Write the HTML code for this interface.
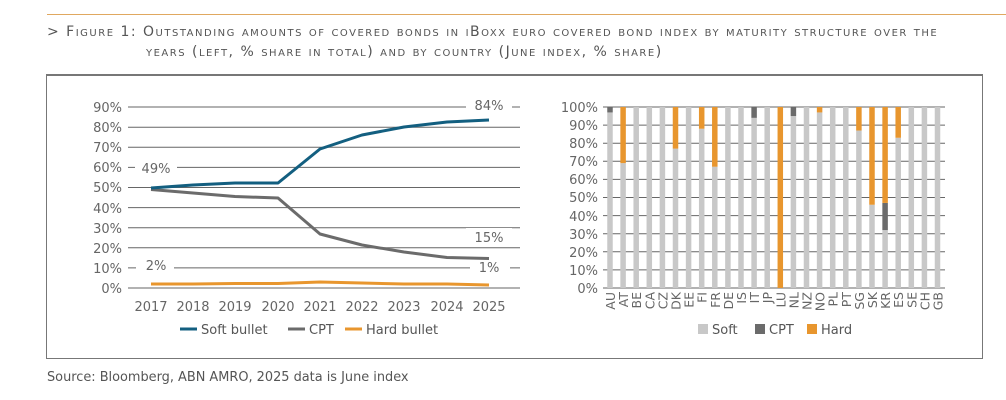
<!DOCTYPE html>
<html><head><meta charset="utf-8"><style>
body{margin:0;width:1006px;height:400px;background:#fff;font-family:"DejaVu Sans","Liberation Sans",sans-serif;overflow:hidden;position:relative}
.t{position:absolute;left:47px;color:#555;font-size:14px;font-variant:small-caps;letter-spacing:1.5px;white-space:nowrap}
</style></head><body>
<div style="position:absolute;left:47px;top:14px;width:959px;height:1px;background:#e0a860"></div>
<div class="t" style="top:24px">&gt; Figure 1: Outstanding amounts of covered bonds in iBoxx euro covered bond index by maturity structure over the</div>
<div class="t" style="top:44px;left:146px">years (left, % share in total) and by country (June index, % share)</div>
<div style="position:absolute;left:46px;top:74px;width:937px;height:285px;border:1px solid #777;border-top:2px solid #777;box-sizing:border-box"></div>
<div style="position:absolute;left:47px;top:370px;font-size:12.9px;color:#555">Source: Bloomberg, ABN AMRO, 2025 data is June index</div>
<svg width="1006" height="400" style="position:absolute;left:0;top:0" font-family="DejaVu Sans, Liberation Sans, sans-serif">
<g stroke="#666" stroke-width="1">
<line x1="128" x2="520" y1="288" y2="288"/><line x1="128" x2="520" y1="267.9" y2="267.9"/><line x1="128" x2="520" y1="247.8" y2="247.8"/><line x1="128" x2="520" y1="227.7" y2="227.7"/><line x1="128" x2="520" y1="207.6" y2="207.6"/><line x1="128" x2="520" y1="187.5" y2="187.5"/><line x1="128" x2="520" y1="167.4" y2="167.4"/><line x1="128" x2="520" y1="147.3" y2="147.3"/><line x1="128" x2="520" y1="127.2" y2="127.2"/><line x1="128" x2="520" y1="107" y2="107"/>
</g>
<g font-size="13" fill="#666" text-anchor="end">
<text x="122" y="293">0%</text><text x="122" y="273">10%</text><text x="122" y="253">20%</text><text x="122" y="233">30%</text><text x="122" y="213">40%</text><text x="122" y="192">50%</text><text x="122" y="172">60%</text><text x="122" y="152">70%</text><text x="122" y="132">80%</text><text x="122" y="112">90%</text>
</g>
<g font-size="13" fill="#666" text-anchor="middle">
<text x="151" y="311">2017</text><text x="193" y="311">2018</text><text x="235" y="311">2019</text><text x="278" y="311">2020</text><text x="320" y="311">2021</text><text x="362" y="311">2022</text><text x="404" y="311">2023</text><text x="447" y="311">2024</text><text x="489" y="311">2025</text>
</g>
<g fill="#fff"><rect x="135" y="160" width="42" height="16"/><rect x="136" y="257" width="38" height="16"/><rect x="466" y="96" width="46" height="16"/><rect x="466" y="228" width="46" height="16"/><rect x="470" y="258" width="40" height="16"/></g>
<g font-size="13" fill="#666" text-anchor="middle">
<text x="156" y="173">49%</text><text x="156" y="270">2%</text><text x="489" y="110">84%</text><text x="489" y="242">15%</text><text x="489" y="272">1%</text>
</g>
<g fill="none" stroke-width="3" stroke-linejoin="round">
<polyline stroke="#e8962e" points="151,284 193,284 235,283.5 278,283.5 320,282 362,283 404,284 447,284 489,285"/>
<polyline stroke="#6b6b6b" points="151,189.5 193,193 235,196.5 278,198 320,234 362,245 404,252 447,257.5 489,258.5"/>
<polyline stroke="#135f80" points="151,188 193,185 235,183 278,183 320,149 362,135 404,127 447,122 489,120"/>
</g>
<g font-size="13" fill="#555">
<line x1="180" x2="197" y1="329" y2="329" stroke="#135f80" stroke-width="3"/><text x="201" y="334">Soft bullet</text>
<line x1="288" x2="305" y1="329" y2="329" stroke="#6b6b6b" stroke-width="3"/><text x="309" y="334">CPT</text>
<line x1="345" x2="362" y1="329" y2="329" stroke="#e8962e" stroke-width="3"/><text x="366" y="334">Hard bullet</text>
</g>
<g stroke="#666" stroke-width="1" id="rg"></g>
<g font-size="13" fill="#666" text-anchor="end">
<text x="598" y="293">0%</text><text x="598" y="275">10%</text><text x="598" y="257">20%</text><text x="598" y="239">30%</text><text x="598" y="221">40%</text><text x="598" y="202">50%</text><text x="598" y="184">60%</text><text x="598" y="166">70%</text><text x="598" y="148">80%</text><text x="598" y="130">90%</text><text x="598" y="112">100%</text>
</g>
<g id="bars"></g>
<g font-size="13" fill="#555">
<rect x="698" y="324" width="10" height="10" fill="#c8c8c8"/><text x="712" y="334">Soft</text>
<rect x="755" y="324" width="10" height="10" fill="#6b6b6b"/><text x="769" y="334">CPT</text>
<rect x="807" y="324" width="10" height="10" fill="#e8962e"/><text x="821" y="334">Hard</text>
</g>
</svg>
<script>
var ns="http://www.w3.org/2000/svg";
var rg=document.getElementById("rg"),b=document.getElementById("bars");
function el(p,t,a){var e=document.createElementNS(ns,t);for(var k in a)e.setAttribute(k,a[k]);p.appendChild(e);return e;}
var y0=288,h=181;
for(var i=0;i<=10;i++){var y=y0-h*i/10;el(rg,"line",{x1:603,x2:945,y1:y,y2:y});}
var d=[["AU",97,3,0],["AT",69,0,31],["BE",100,0,0],["CA",100,0,0],["CZ",100,0,0],["DK",77,0,23],["EE",100,0,0],["FI",88,0,12],["FR",67,0,33],["DE",100,0,0],["IS",100,0,0],["IT",94,6,0],["JP",100,0,0],["LU",0,0,100],["NL",95,5,0],["NZ",100,0,0],["NO",97,0,3],["PL",100,0,0],["PT",100,0,0],["SG",87,0,13],["SK",46,0,54],["KR",32,15,53],["ES",83,0,17],["SE",100,0,0],["CH",100,0,0],["GB",100,0,0]];
d.forEach(function(r,i){var x=610+i*13.1,w=5.5,y=y0;
[[r[1],"#c8c8c8"],[r[2],"#6b6b6b"],[r[3],"#e8962e"]].forEach(function(s){var hh=h*s[0]/100;if(hh>0){el(b,"rect",{x:x-w/2,y:y-hh,width:w,height:hh,fill:s[1]});y-=hh;}});
var t=el(b,"text",{x:0,y:0,"font-size":"12.5","fill":"#666","text-anchor":"end",transform:"translate("+(x+5)+",292) rotate(-90)"});t.textContent=r[0];});
</script>
</body></html>
